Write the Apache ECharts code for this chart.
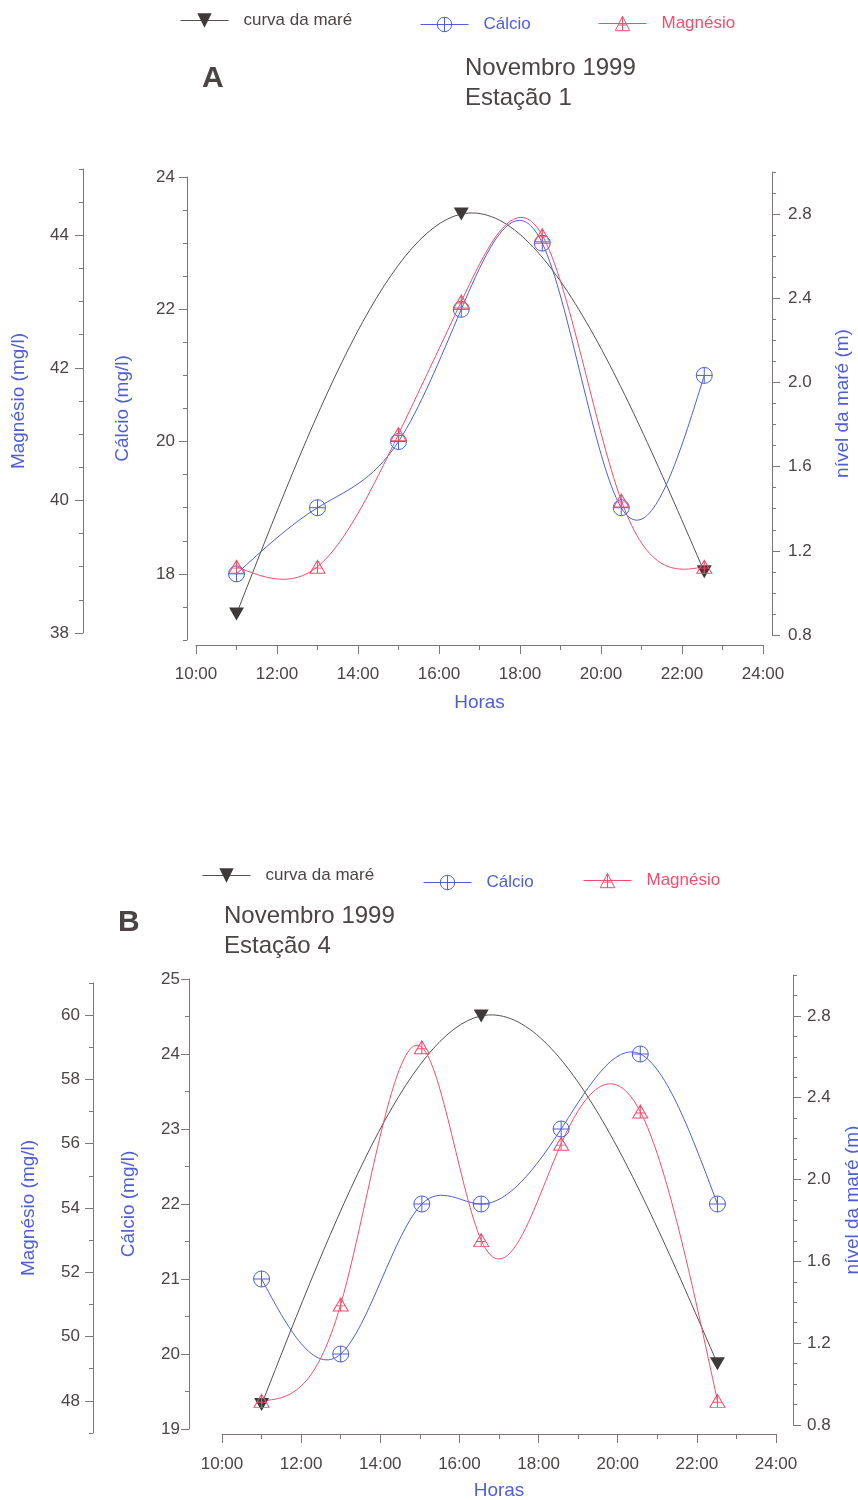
<!DOCTYPE html>
<html>
<head>
<meta charset="utf-8">
<script src="https://cdn.jsdelivr.net/npm/echarts@6/dist/echarts.min.js"></script>
<style>
  html, body { margin: 0; padding: 0; background: #ffffff; }
  #chart { width: 858px; height: 1500px; }
</style>
</head>
<body>
<div id="chart"></div>
<script>
// ---- Estação 1 (painel A) ----
const horasA      = [11, 13, 15, 16.55, 18.55, 20.5, 22.55];
const calcioA     = [18, 19, 20, 22, 23, 19, 21];
const magnesioA   = [39, 39, 41, 43, 44, 40, 39];
const horasMareA  = [11, 16.55, 22.55];
const mareA       = [0.9, 2.8, 1.1];

// ---- Estação 4 (painel B) ----
const horasB      = [11, 13, 15.05, 16.55, 18.57, 20.57, 22.52];
const calcioB     = [21, 20, 22, 22, 23, 24, 22];
const magnesioB   = [48, 51, 59, 53, 56, 57, 48];
const horasMareB  = [11, 16.55, 22.52];
const mareB       = [0.9, 2.8, 1.1];

// ---- Marcas dos eixos ----
const horaTicks       = [10, 12, 14, 16, 18, 20, 22, 24];
const calcioTicksA    = [18, 20, 22, 24];
const magnesioTicksA  = [38, 40, 42, 44];
const calcioTicksB    = [19, 20, 21, 22, 23, 24, 25];
const magnesioTicksB  = [48, 50, 52, 54, 56, 58, 60];
const mareTicks       = [0.8, 1.2, 1.6, 2.0, 2.4, 2.8];

const FONT = '"Liberation Sans", Arial, Helvetica, sans-serif';
const INK  = '#4a4444';
const AXIS = '#7c7676';
const BLUE = '#4d5ed8';
const RED  = '#f24d6c';
const TIDE = '#3f3a3a';
const TIDE_LINE = '#555050';
const HOLLOW = 'rgba(255,255,255,0)';

// hollow circle with a cross, hollow triangle with a cross, solid down-triangle
const SYM_CA   = 'path://M0,10A10,10,0,1,1,20,10A10,10,0,1,1,0,10ZM10,0L10,20M0,10L20,10';
const SYM_MG   = 'path://M10,0L20,18L0,18ZM10,0L10,18M4.4,11L15.6,11';
const SYM_TIDE = 'path://M0,0L20,0L10,17Z';

// short ticks between labelled values
function minorSteps(min, max, step, skip) {
  const out = [];
  for (let i = 0; ; i++) {
    const v = Math.round((min + i * step) * 1000) / 1000;
    if (v > max + 1e-9) break;
    if (!skip.some(s => Math.abs(s - v) < 1e-9)) out.push(v);
  }
  return out;
}

// Natural cubic spline through the samples, expressed as one Bezier per interval
// (end points and control points in data units; the axes are linear).
function splineSegments(xs, ys) {
  const n = xs.length, h = [], d = [];
  for (let i = 0; i < n - 1; i++) {
    h[i] = xs[i + 1] - xs[i];
    d[i] = (ys[i + 1] - ys[i]) / h[i];
  }
  const M = new Array(n).fill(0);
  if (n > 2) {
    const a = [], b = [], c = [], r = [];
    for (let i = 1; i < n - 1; i++) {
      a.push(h[i - 1]); b.push(2 * (h[i - 1] + h[i])); c.push(h[i]);
      r.push(6 * (d[i] - d[i - 1]));
    }
    const m = b.length;
    for (let i = 1; i < m; i++) {
      const w = a[i] / b[i - 1];
      b[i] -= w * c[i - 1];
      r[i] -= w * r[i - 1];
    }
    const sol = new Array(m);
    sol[m - 1] = r[m - 1] / b[m - 1];
    for (let i = m - 2; i >= 0; i--) sol[i] = (r[i] - c[i] * sol[i + 1]) / b[i];
    for (let i = 0; i < m; i++) M[i + 1] = sol[i];
  }
  const segs = [];
  for (let i = 0; i < n - 1; i++) {
    const s0 = d[i] - h[i] * (2 * M[i] + M[i + 1]) / 6;
    const s1 = d[i] + h[i] * (M[i] + 2 * M[i + 1]) / 6;
    segs.push([
      [xs[i], ys[i]],
      [xs[i] + h[i] / 3, ys[i] + s0 * h[i] / 3],
      [xs[i + 1] - h[i] / 3, ys[i + 1] - s1 * h[i] / 3],
      [xs[i + 1], ys[i + 1]]
    ]);
  }
  return segs;
}

// plot rectangles; outer bounds off so the axis titles may sit near the page edge
const grids = [
  { left: 196, top: 177, width: 567, height: 463 },  // cálcio A
  { left: 196, top: 169, width: 567, height: 464 },  // magnésio A
  { left: 196, top: 172, width: 567, height: 463 },  // maré A
  { left: 222, top: 979, width: 554, height: 450 },  // cálcio B
  { left: 222, top: 983, width: 554, height: 450 },  // magnésio B
  { left: 222, top: 975, width: 554, height: 450 }   // maré B
].map(g => Object.assign({ outerBoundsMode: 'none', containLabel: false }, g));

function xAxisFor(grid, visible) {
  return {
    type: 'value', gridIndex: grid, min: 10, max: 24, interval: 2,
    position: 'bottom', offset: 5, show: visible,
    name: 'Horas', nameLocation: 'middle', nameGap: grid === 0 ? 48 : 47,
    nameTextStyle: { color: BLUE, fontSize: 19, fontFamily: FONT },
    axisLine: { onZero: false, lineStyle: { color: AXIS, width: 1 } },
    axisTick: { show: true, length: 9, lineStyle: { color: AXIS } },
    minorTick: { show: true, splitNumber: 2, length: 5, lineStyle: { color: AXIS } },
    axisLabel: {
      customValues: horaTicks, margin: grid === 0 ? 21 : 22, color: INK, fontSize: 17, fontFamily: FONT,
      formatter: v => (v < 10 ? '0' : '') + v + ':00'
    },
    splitLine: { show: false }, minorSplitLine: { show: false }
  };
}

function yAxisPair(grid, side, offset, min, max, major, minorStep, name, nameGap, margin, fmt) {
  const main = {
    type: 'value', gridIndex: grid, position: side, offset, min, max,
    name, nameLocation: 'middle', nameGap,
    nameTextStyle: { color: BLUE, fontSize: 19, fontFamily: FONT },
    axisLine: { show: true, onZero: false, lineStyle: { color: AXIS, width: 1 } },
    axisTick: { show: true, length: 8, customValues: major, lineStyle: { color: AXIS } },
    axisLabel: { show: true, customValues: major, margin, color: INK, fontSize: 17, fontFamily: FONT, formatter: fmt },
    splitLine: { show: false }
  };
  const minor = {
    type: 'value', gridIndex: grid, position: side, offset, min, max,
    axisLine: { show: false, onZero: false },
    axisLabel: { show: false },
    axisTick: { show: true, length: 4, customValues: minorSteps(min, max, minorStep, major), lineStyle: { color: AXIS } },
    splitLine: { show: false }
  };
  return [main, minor];
}

const intFmt = v => String(v);
const decFmt = v => v.toFixed(1);

const yAxes = [].concat(
  yAxisPair(0, 'left', 9, 17, 24, calcioTicksA, 0.5, 'Cálcio (mg/l)', 55, 12, intFmt),
  yAxisPair(1, 'left', 113, 38, 45, magnesioTicksA, 0.5, 'Magnésio (mg/l)', 55, 14, intFmt),
  yAxisPair(2, 'right', 9, 0.8, 3.0, mareTicks, 0.1, 'nível da maré (m)', 61, 16, decFmt),
  yAxisPair(3, 'left', 33, 19, 25, calcioTicksB, 0.5, 'Cálcio (mg/l)', 51, 9, intFmt),
  yAxisPair(4, 'left', 129, 47, 61, magnesioTicksB, 1, 'Magnésio (mg/l)', 55, 13, intFmt),
  yAxisPair(5, 'right', 17, 0.8, 3.0, mareTicks, 0.1, 'nível da maré (m)', 50, 14, decFmt)
);

const pairs = (xs, ys) => xs.map((x, i) => [x, ys[i]]);

// spline curve drawn under the markers
function curveSeries(grid, xs, ys, color, z) {
  const segs = splineSegments(xs, ys);
  return {
    type: 'custom', xAxisIndex: grid, yAxisIndex: 2 * grid,
    data: pairs(xs, ys), silent: true, clip: false, z,
    renderItem: (params, api) => {
      const seg = segs[params.dataIndex];
      if (!seg) return null;
      const [p0, c0, c1, p1] = seg.map(p => api.coord(p));
      return {
        type: 'bezierCurve',
        shape: { x1: p0[0], y1: p0[1], cpx1: c0[0], cpy1: c0[1], cpx2: c1[0], cpy2: c1[1], x2: p1[0], y2: p1[1] },
        style: { stroke: color, lineWidth: 1, fill: null }
      };
    }
  };
}

// markers (the connecting curve is drawn by curveSeries)
function markerSeries(grid, name, xs, ys, symbol, size, color, fill, z) {
  return {
    type: 'line', name, xAxisIndex: grid, yAxisIndex: 2 * grid,
    data: pairs(xs, ys), symbol, symbolSize: size,
    lineStyle: { color, width: 1, opacity: 0 },
    itemStyle: { color: fill, borderColor: color, borderWidth: fill === color ? 0 : 1 },
    z
  };
}

function legendItem(name, color, lineColor, solid, left, top) {
  return {
    left, top, orient: 'horizontal', selectedMode: false,
    itemWidth: 48, itemHeight: 18, padding: 0,
    lineStyle: { color: lineColor, width: 1, opacity: 1 },
    itemStyle: solid
      ? { color: TIDE, borderWidth: 0 }
      : { color: HOLLOW, borderColor: lineColor, borderWidth: 1 },
    data: [{ name, textStyle: { color } }],
    textStyle: { fontSize: 17, fontFamily: FONT, padding: [0, 0, 0, 10] }
  };
}

const option = {
  backgroundColor: '#ffffff',
  animation: false,
  textStyle: { fontFamily: FONT },
  grid: grids,
  xAxis: grids.map((g, i) => xAxisFor(i, i === 0 || i === 3)),
  yAxis: yAxes,
  legend: [
    legendItem('curva da maré', INK, TIDE_LINE, true, 180, 12),
    legendItem('Cálcio', BLUE, BLUE, false, 420, 16),
    legendItem('Magnésio', RED, RED, false, 598, 15),
    legendItem('curva da maré', INK, TIDE_LINE, true, 202, 867),
    legendItem('Cálcio', BLUE, BLUE, false, 423, 874),
    legendItem('Magnésio', RED, RED, false, 583, 872)
  ],
  graphic: [
    { type: 'text', left: 202, top: 64, style: { text: 'A', font: 'bold 30px ' + FONT, fill: INK } },
    { type: 'text', left: 465, top: 53, style: { text: 'Novembro 1999\nEstação 1', font: '24px ' + FONT, lineHeight: 30, fill: INK } },
    { type: 'text', left: 118, top: 908, style: { text: 'B', font: 'bold 30px ' + FONT, fill: INK } },
    { type: 'text', left: 224, top: 901, style: { text: 'Novembro 1999\nEstação 4', font: '24px ' + FONT, lineHeight: 30, fill: INK } }
  ],
  series: [
    curveSeries(2, horasMareA, mareA, TIDE_LINE, 2),
    curveSeries(0, horasA, calcioA, BLUE, 2),
    curveSeries(1, horasA, magnesioA, RED, 2),
    curveSeries(5, horasMareB, mareB, TIDE_LINE, 2),
    curveSeries(3, horasB, calcioB, BLUE, 2),
    curveSeries(4, horasB, magnesioB, RED, 2),
    markerSeries(2, 'curva da maré', horasMareA, mareA, SYM_TIDE, [15, 13], TIDE, TIDE, 3),
    markerSeries(0, 'Cálcio', horasA, calcioA, SYM_CA, 16, BLUE, HOLLOW, 4),
    markerSeries(1, 'Magnésio', horasA, magnesioA, SYM_MG, [15, 13], RED, HOLLOW, 5),
    markerSeries(5, 'curva da maré', horasMareB, mareB, SYM_TIDE, [15, 13], TIDE, TIDE, 3),
    markerSeries(3, 'Cálcio', horasB, calcioB, SYM_CA, 16, BLUE, HOLLOW, 4),
    markerSeries(4, 'Magnésio', horasB, magnesioB, SYM_MG, [15, 13], RED, HOLLOW, 5)
  ]
};

const chart = echarts.init(document.getElementById('chart'), null, { renderer: 'canvas' });
chart.setOption(option);
</script>
</body>
</html>
